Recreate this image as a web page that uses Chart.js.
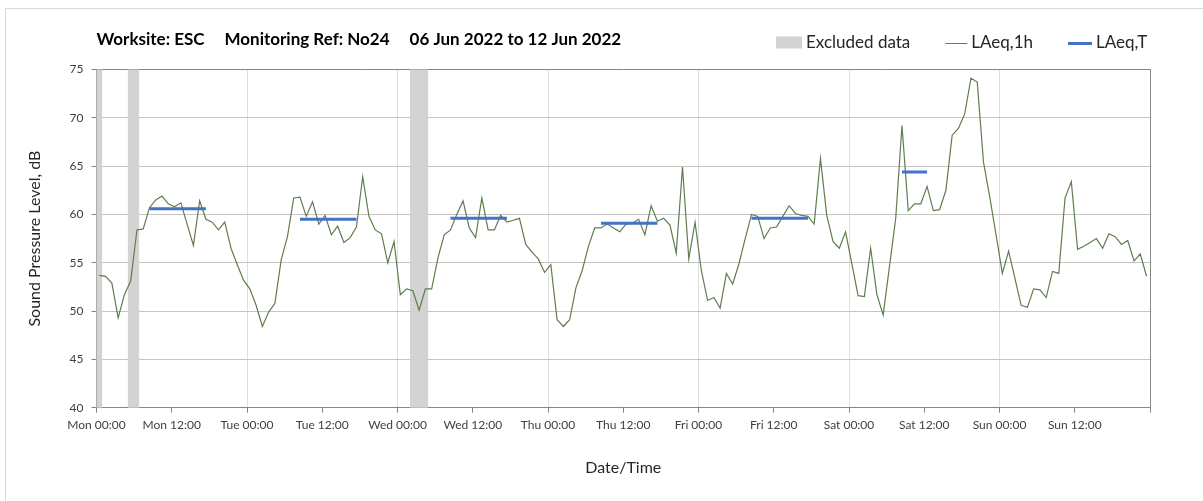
<!DOCTYPE html>
<html>
<head>
<meta charset="utf-8">
<script src="https://cdn.jsdelivr.net/npm/chart.js@4.4.1/dist/chart.umd.min.js"></script>
<style>
  html, body { margin: 0; padding: 0; background: #fff; }
</style>
</head>
<body>
<canvas id="myChart" width="1203" height="501"></canvas>
<script>
let titleParts = ['Worksite: ESC', 'Monitoring Ref: No24', '06 Jun 2022 to 12 Jun 2022'];
let days = ['Mon', 'Tue', 'Wed', 'Thu', 'Fri', 'Sat', 'Sun'];

// LAeq,1h - one value per hour from Mon 00:00
let hourly = [
  53.7, 53.6, 52.9, 49.3, 51.7, 53.1, 58.4, 58.5, 60.7, 61.5, 61.9, 61.1, 60.8, 61.2, 59.0, 56.8, 61.4, 59.5, 59.2, 58.4,
  59.2, 56.5, 54.8, 53.2, 52.3, 50.6, 48.4, 49.9, 50.8, 55.3, 57.7, 61.7, 61.8, 59.8, 61.3, 59.0, 59.9, 57.9, 58.8,
  57.1, 57.6, 58.7, 63.9, 59.8, 58.4, 58.0, 55.0, 57.2, 51.7, 52.3, 52.1, 50.1, 52.3, 52.3, 55.5, 57.9, 58.4,
  60.0, 61.4, 58.6, 57.6, 61.7, 58.4, 58.4, 59.9, 59.2, 59.4, 59.6, 56.9, 56.1, 55.4, 54.0, 54.8, 49.1, 48.4, 49.1, 52.4,
  54.2, 56.7, 58.6, 58.6, 59.0, 58.6, 58.2, 59.0, 59.1, 59.5, 57.9, 60.9, 59.3, 59.6, 58.9, 56.0, 64.9, 55.4, 59.2,
  54.2, 51.1, 51.4, 50.3, 53.9, 52.8, 54.9, 57.5, 60.0, 59.8, 57.5, 58.6, 58.7, 59.8, 60.9, 60.1, 59.9, 59.8, 59.0,
  65.8, 59.9, 57.2, 56.5, 58.2, 54.9, 51.6, 51.5, 56.5, 51.7, 49.6, 54.6, 59.6, 69.2, 60.4, 61.1, 61.1, 62.9, 60.4, 60.5,
  62.5, 68.2, 68.9, 70.4, 74.1, 73.7, 65.4, 61.8, 57.9, 53.9, 56.2, 53.4, 50.6, 50.4, 52.3, 52.2, 51.4, 54.1, 53.9,
  61.7, 63.4, 56.4, 56.7, 57.1, 57.5, 56.5, 58.0, 57.7, 56.9, 57.3, 55.2, 55.9, 53.6
];

// LAeq,T periods (hours from Mon 00:00)
let periodStart = [8, 32, 56, 80, 104, 128];
let periodEnd = [17, 41, 65, 89, 113, 132];
let periodLevel = [60.6, 59.5, 59.6, 59.1, 59.6, 64.4];

// excluded data (hours from Mon 00:00)
let excludedStart = [0, 5, 50];
let excludedEnd = [0.9, 6.8, 52.9];

let hourOffset = 0.45;

let hourlyPoints = hourly.map((v, i) => ({ x: i + hourOffset, y: v }));
let periodPoints = [];
for (let i = 0; i < periodLevel.length; i++) {
  periodPoints.push({ x: periodStart[i] + hourOffset, y: periodLevel[i] });
  periodPoints.push({ x: periodEnd[i] + hourOffset, y: periodLevel[i] });
  periodPoints.push({ x: periodEnd[i] + hourOffset + 0.1, y: null });
}

let greenColor = '#5f7d4e';
let blueColor = '#4472c4';
let greyColor = '#d3d3d3';

let headerPlugin = {
  id: 'header',
  beforeDraw(chart) {
    let ctx = chart.ctx;
    ctx.save();
    ctx.strokeStyle = '#d9d9d9';
    ctx.lineWidth = 1;
    ctx.beginPath();
    ctx.moveTo(5.5, 501);
    ctx.lineTo(5.5, 8.5);
    ctx.lineTo(1203, 8.5);
    ctx.stroke();
    ctx.restore();
  },
  beforeDatasetsDraw(chart) {
    let ctx = chart.ctx;
    let area = chart.chartArea;
    let x = chart.scales.x;
    ctx.save();
    ctx.fillStyle = greyColor;
    for (let i = 0; i < excludedStart.length; i++) {
      let x0 = x.getPixelForValue(excludedStart[i]);
      let x1 = x.getPixelForValue(excludedEnd[i]);
      ctx.fillRect(x0, area.top, x1 - x0, area.bottom - area.top);
    }
    ctx.restore();
  },
  afterDraw(chart) {
    let ctx = chart.ctx;
    let area = chart.chartArea;
    ctx.save();
    ctx.textBaseline = 'middle';
    ctx.fillStyle = '#000';
    ctx.font = 'bold 17px Lato';
    let tx = area.left;
    titleParts.forEach(t => {
      ctx.fillText(t, tx, area.top - 30);
      tx += ctx.measureText(t).width + 20;
    });

    let items = [
      { label: 'Excluded data', kind: 'box', color: greyColor, w: 26, h: 12 },
      { label: 'LAeq,1h', kind: 'line', color: greenColor, w: 22, h: 1 },
      { label: 'LAeq,T', kind: 'line', color: blueColor, w: 24, h: 3 }
    ];
    ctx.font = '17px Lato';
    let cy = area.top - 27;
    let lx = area.right - 374;
    items.forEach(it => {
      if (it.kind === 'box') {
        ctx.fillStyle = it.color;
        ctx.fillRect(lx, cy - it.h / 2, it.w, it.h);
      } else {
        ctx.strokeStyle = it.color;
        ctx.lineWidth = it.h;
        ctx.beginPath();
        ctx.moveTo(lx, Math.round(cy) + (it.h % 2 ? 0.5 : 0));
        ctx.lineTo(lx + it.w, Math.round(cy) + (it.h % 2 ? 0.5 : 0));
        ctx.stroke();
      }
      ctx.fillStyle = '#262626';
      ctx.fillText(it.label, lx + it.w + 4, cy);
      lx += it.w + 4 + ctx.measureText(it.label).width + 35;
    });
    ctx.restore();
  }
};

Chart.defaults.font.family = 'Lato';
Chart.defaults.color = '#404040';

let myChart = document.getElementById('myChart').getContext('2d');

let chart = new Chart(myChart, {
  type: 'line',
  data: {
    datasets: [
      {
        label: 'LAeq,T',
        data: periodPoints,
        borderColor: blueColor,
        borderWidth: 3,
        pointRadius: 0,
        spanGaps: false,
        order: 0
      },
      {
        label: 'LAeq,1h',
        data: hourlyPoints,
        borderColor: greenColor,
        borderWidth: 1.2,
        pointRadius: 0,
        tension: 0,
        order: 1
      }
    ]
  },
  options: {
    responsive: false,
    animation: false,
    devicePixelRatio: 1,
    layout: {
      padding: { left: 0, right: 53, top: 69.5, bottom: 0 }
    },
    plugins: {
      legend: { display: false },
      title: { display: false },
      tooltip: { enabled: false }
    },
    scales: {
      x: {
        type: 'linear',
        min: 0,
        max: 168,
        afterFit: s => { s.height = 93.3; },
        ticks: {
          stepSize: 12,
          autoSkip: false,
          maxRotation: 0,
          padding: 5,
          font: { size: 12 },
          callback: v => v >= 168 ? '' : days[Math.floor(v / 24)] + (v % 24 ? ' 12:00' : ' 00:00')
        },
        grid: {
          color: c => (c.tick && c.tick.value % 24 === 0 && c.tick.value > 0 && c.tick.value < 168) ? '#dedede' : 'rgba(0,0,0,0)',
          tickColor: '#868686',
          tickLength: 5
        },
        border: { color: '#868686' },
        title: {
          display: true,
          text: 'Date/Time',
          color: '#262626',
          font: { size: 16 },
          padding: { top: 0, bottom: 24 }
        }
      },
      y: {
        min: 40,
        max: 75,
        afterFit: s => { s.width = 96.5; },
        ticks: {
          stepSize: 5,
          padding: 8,
          font: { size: 12 }
        },
        grid: {
          color: c => (c.tick && c.tick.value === 75) ? '#868686' : '#c4c4c4',
          tickColor: '#868686',
          tickLength: 5
        },
        border: { color: '#868686' },
        title: {
          display: true,
          text: 'Sound Pressure Level, dB',
          color: '#262626',
          font: { size: 16 },
          padding: { top: 25, bottom: 0 }
        }
      },
      y2: {
        position: 'right',
        min: 40,
        max: 75,
        afterFit: s => { s.width = 0; },
        ticks: { display: false },
        grid: { drawOnChartArea: false, drawTicks: false },
        border: { color: '#868686' }
      }
    }
  },
  plugins: [headerPlugin]
});
</script>
</body>
</html>
